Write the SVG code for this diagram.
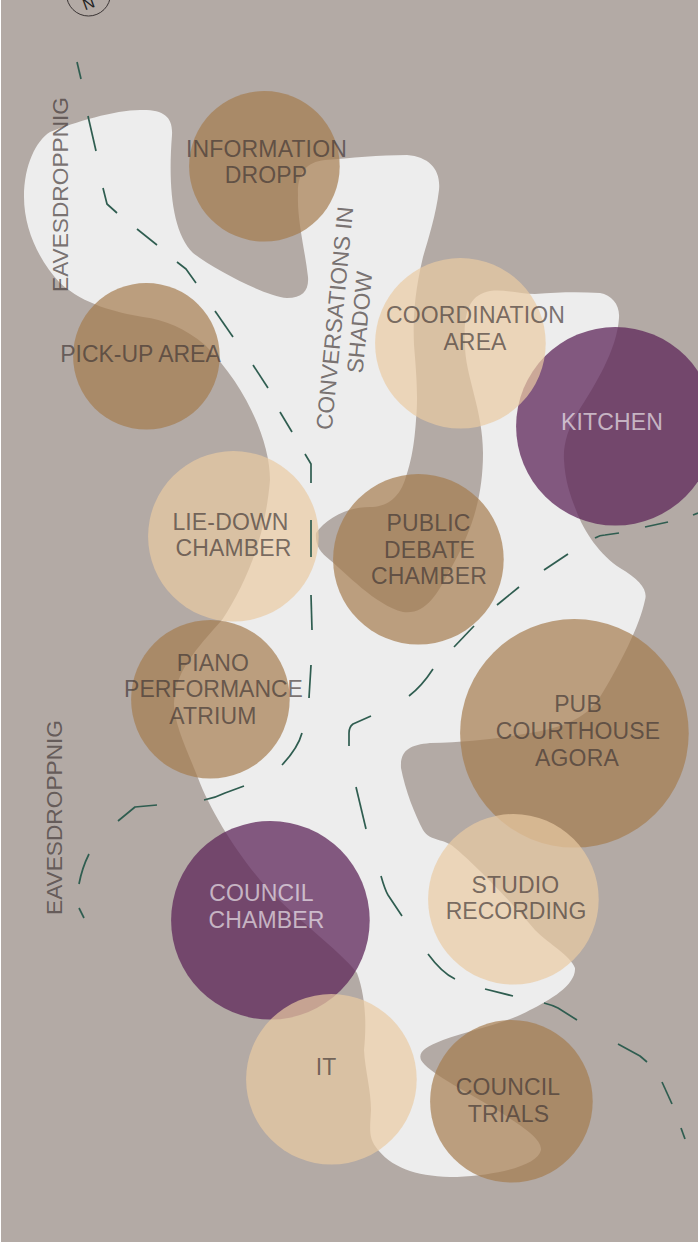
<svg xmlns="http://www.w3.org/2000/svg" width="698" height="1242" viewBox="0 0 698 1242">
<style>
.brown{fill:#a57c4f;fill-opacity:.7}
.light{fill:#e9cba2;fill-opacity:.7}
.purple{fill:#5e255a;fill-opacity:.75}
text{font-family:"Liberation Sans",Arial,sans-serif;font-size:23px;letter-spacing:.15px;text-anchor:middle;fill:#3e3433;fill-opacity:.68}
.pl text{fill:#fff;fill-opacity:.6}
.tight{letter-spacing:0}
#labels text{font-size:22.700px;letter-spacing:0}
#connectors path{fill:none;stroke:#2f5d50;stroke-width:1.7;stroke-linejoin:round}
</style>
<rect width="698" height="1242" fill="#fff"/>
<rect x="1" width="697" height="1242" fill="#b3aaa5"/>
<path id="floor" fill="#ededed" d="M24 197C24 165 36 141 50 132C75 122 118 109 143 110C165 110 173 118 172 135C168 185 172 232 193 253C215 270 265 296 287 298C303 298 309 290 308 277C305 250 297 220 298 195C297 175 305 162 325 160C350 158 380 155 407 155C430 157 441 170 439 190C436 215 428 240 423 257C414 295 413 320 414 345C417 380 418 400 416 420C414 450 410 465 405 480C398 500 385 507 370 507C345 507 325 520 316 533C315 545 320 552 330 560C345 572 375 605 403 612C425 615 437 595 450 570C470 535 483 500 483 453C483 410 465 375 465 345C463 310 470 295 490 291C505 289 520 294 535 294C560 292 580 292 600 293C612 295 620 305 619 318C617 350 595 385 578 412C568 428 563 445 564 460C565 480 570 495 576 510C584 532 600 555 620 568C640 580 648 590 645 600C640 625 620 665 600 697C585 720 560 728 530 733C500 738 470 742 430 743C410 745 400 750 401 768C405 790 415 815 423 830C430 842 445 838 455 848C470 860 510 900 535 930C550 945 570 955 575 968C576 985 550 1000 530 1010C505 1024 470 1030 443 1040C425 1047 418 1052 421 1060C428 1072 460 1088 497 1110C520 1125 542 1138 541 1150C538 1165 500 1175 457 1177C420 1177 395 1170 378 1150C368 1138 370 1130 371 1110C371 1090 365 1070 364 1050C366 1030 367 1000 357 973C340 950 290 915 260 880C235 850 210 810 198 778C185 745 170 715 175 695C178 670 195 650 222 620C245 585 265 540 270 480C270 440 245 385 205 345C185 328 165 320 143 317C115 312 85 305 60 283C40 262 24 230 24 197Z"/>
<g id="north"><circle cx="88.500" cy="-6" r="22" fill="none" stroke="#3a3434" stroke-width="1"/><text transform="translate(90.500 8.500) rotate(-20)" style="font-size:16px;fill:#222;fill-opacity:1">N</text></g>
<g id="kitchen" class="pl"><circle class="purple" cx="615.400" cy="426.300" r="99.300"/><text x="612" y="430">KITCHEN</text></g>
<g id="council-chamber" class="pl"><circle class="purple" cx="270.400" cy="920.300" r="99.300"/><text x="261.500" y="901">COUNCIL</text><text x="266.500" y="928">CHAMBER</text></g>
<g id="information-dropp"><circle class="brown" cx="264.400" cy="166.300" r="75.300"/><text x="266.500" y="157">INFORMATION</text><text x="266" y="183">DROPP</text></g>
<g id="pick-up-area"><circle class="brown" cx="146.400" cy="356.300" r="73.300"/><text class="tight" x="140.500" y="362">PICK-UP AREA</text></g>
<g id="coordination-area"><circle class="light" cx="460.400" cy="343.300" r="85.300"/><text x="475.500" y="323">COORDINATION</text><text x="475" y="350">AREA</text></g>
<g id="lie-down-chamber"><circle class="light" cx="233.400" cy="536.300" r="85.300"/><text x="230.500" y="530">LIE-DOWN</text><text x="233.500" y="556">CHAMBER</text></g>
<g id="public-debate-chamber"><circle class="brown" cx="418.400" cy="559.300" r="85.300"/><text x="428.500" y="531">PUBLIC</text><text x="429.500" y="558">DEBATE</text><text x="429" y="584">CHAMBER</text></g>
<g id="piano-performance-atrium"><circle class="brown" cx="210.400" cy="699.300" r="79.300"/><text x="213" y="671">PIANO</text><text class="tight" x="213.500" y="697">PERFORMANCE</text><text x="213" y="724">ATRIUM</text></g>
<g id="pub-courthouse-agora"><circle class="brown" cx="574.400" cy="733.300" r="114.300"/><text x="578" y="712">PUB</text><text x="578" y="739">COURTHOUSE</text><text x="577" y="766">AGORA</text></g>
<g id="studio-recording"><circle class="light" cx="513.400" cy="899.300" r="85.300"/><text x="515.500" y="893">STUDIO</text><text class="tight" x="516" y="919">RECORDING</text></g>
<g id="it"><circle class="light" cx="331.400" cy="1079.300" r="85.300"/><text x="326" y="1075">IT</text></g>
<g id="council-trials"><circle class="brown" cx="511.400" cy="1101.300" r="81.300"/><text x="508" y="1095">COUNCIL</text><text x="508.500" y="1122">TRIALS</text></g>
<g id="connectors">
<path d="M77 62L81 79"/><path d="M88 116L96 151"/><path d="M103 188L107 204L117 213"/><path d="M137 229L157 245"/><path d="M177 262L186 269L196 283"/><path d="M215 311L233 337"/><path d="M253 365L268 388"/><path d="M280 412L292 432"/><path d="M305 454L311 464V483"/><path d="M311 520V557"/><path d="M311 595L312 630"/><path d="M311 665L309 698"/><path d="M302 733Q298 748 282 765"/><path d="M244 786L225 793Q215 798 204 800"/><path d="M157 805L135 807L118 821"/><path d="M89 854Q82 868 79 884"/><path d="M79 908L84 918"/>
<path d="M371 716L353 724Q349 727 349 733V746"/><path d="M356 787L366 829"/><path d="M381 876Q385 890 388 895L402 916"/><path d="M428 954Q442 973 455 979"/><path d="M485 989L513 996"/><path d="M544 1003Q552 1005 558 1008L577 1020"/><path d="M618 1044L640 1056L647 1062"/><path d="M662 1082L672 1104"/><path d="M681 1128L685 1139"/>
<path d="M433 669Q422 686 409 696"/><path d="M474 626L454 647"/><path d="M497 605L519 587"/><path d="M544 570L568 554"/><path d="M595 538Q600 535 605 535L619 533"/><path d="M645 527L668 522"/><path d="M693 515L698 513"/>
</g>
<g id="labels">
<text transform="translate(68 194.500) rotate(-90)">EAVESDROPPNIG</text>
<text transform="translate(62 817.500) rotate(-90)">EAVESDROPPNIG</text>
<text transform="translate(342.500 319) rotate(-84.500)">CONVERSATIONS IN</text>
<text transform="translate(367.500 323) rotate(-84.500)">SHADOW</text>
</g>
</svg>
